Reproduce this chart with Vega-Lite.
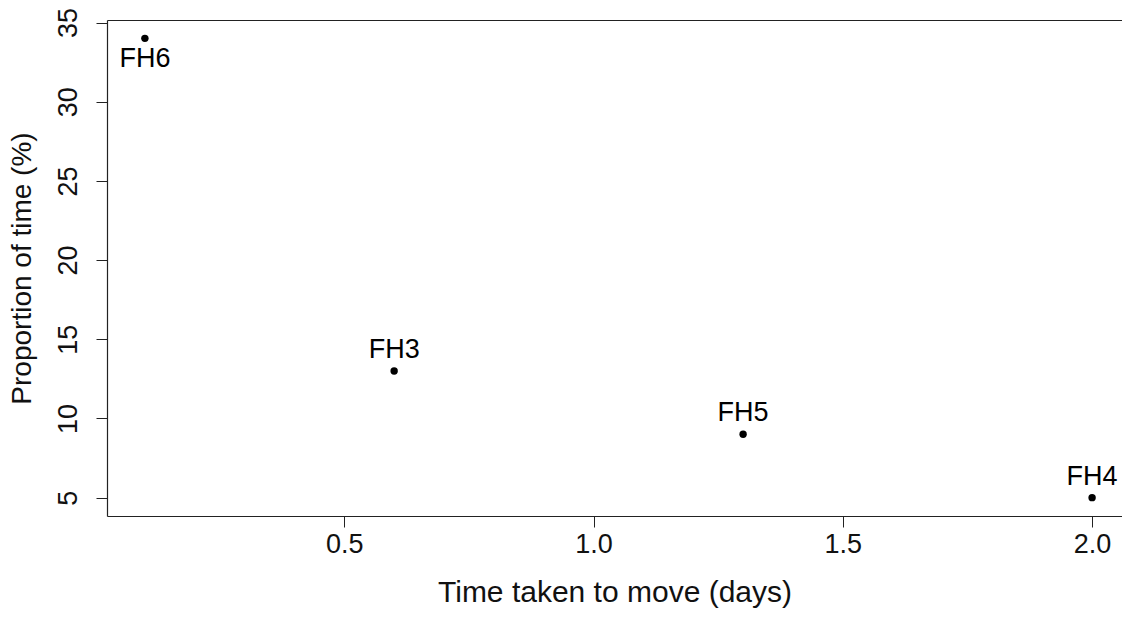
{
  "$schema": "https://vega.github.io/schema/vega-lite/v6.json",
  "autosize": {"type": "none"},
  "width": 1015,
  "height": 496,
  "padding": {"left": 107, "top": 20, "right": 0, "bottom": 101},
  "background": "white",
  "config": {
    "view": {"stroke": null},
    "font": "Liberation Sans",
    "axis": {"grid": false, "domainColor": "#222", "tickColor": "#222", "labelColor": "#111", "titleColor": "#111", "labelFontSize": 27, "titleFontSize": 28, "titleFontWeight": "normal", "tickSize": 11, "domainWidth": 1.2, "tickWidth": 1}
  },
  "data": {"values": [
    {"days": 0.1, "prop": 34, "id": "FH6"},
    {"days": 0.6, "prop": 13, "id": "FH3"},
    {"days": 1.3, "prop": 9, "id": "FH5"},
    {"days": 2.0, "prop": 5, "id": "FH4"}
  ]},
  "resolve": {"axis": {"x": "independent"}},
  "layer": [
    {
      "mark": {"type": "point", "filled": true, "color": "black", "size": 55, "opacity": 1},
      "encoding": {
        "x": {"field": "days", "type": "quantitative", "scale": {"domain": [0.024, 2.06], "nice": false, "zero": false},
          "axis": {"values": [0.5, 1.0, 1.5, 2.0], "format": ".1f", "title": "Time taken to move (days)", "titleFontSize": 30, "labelPadding": 4, "titlePadding": 20, "labelFlush": false}},
        "y": {"field": "prop", "type": "quantitative", "scale": {"domain": [3.84, 35.16], "nice": false, "zero": false},
          "axis": {"values": [5, 10, 15, 20, 25, 30, 35], "title": "Proportion of time (%)", "labelAngle": 270, "labelAlign": "center", "labelBaseline": "bottom", "labelPadding": 14, "titlePadding": 18, "labelFlush": false}}
      }
    },
    {
      "transform": [{"filter": "datum.id == 'FH6'"}],
      "mark": {"type": "text", "fontSize": 27, "baseline": "top", "dy": 8, "color": "black"},
      "encoding": {
        "x": {"field": "days", "type": "quantitative", "axis": {"orient": "top", "labels": false, "ticks": false, "title": null, "domain": true}},
        "y": {"field": "prop", "type": "quantitative"},
        "text": {"field": "id"}
      }
    },
    {
      "transform": [{"filter": "datum.id != 'FH6'"}],
      "mark": {"type": "text", "fontSize": 27, "baseline": "bottom", "dy": -7, "color": "black"},
      "encoding": {
        "x": {"field": "days", "type": "quantitative", "axis": null},
        "y": {"field": "prop", "type": "quantitative"},
        "text": {"field": "id"}
      }
    }
  ]
}
